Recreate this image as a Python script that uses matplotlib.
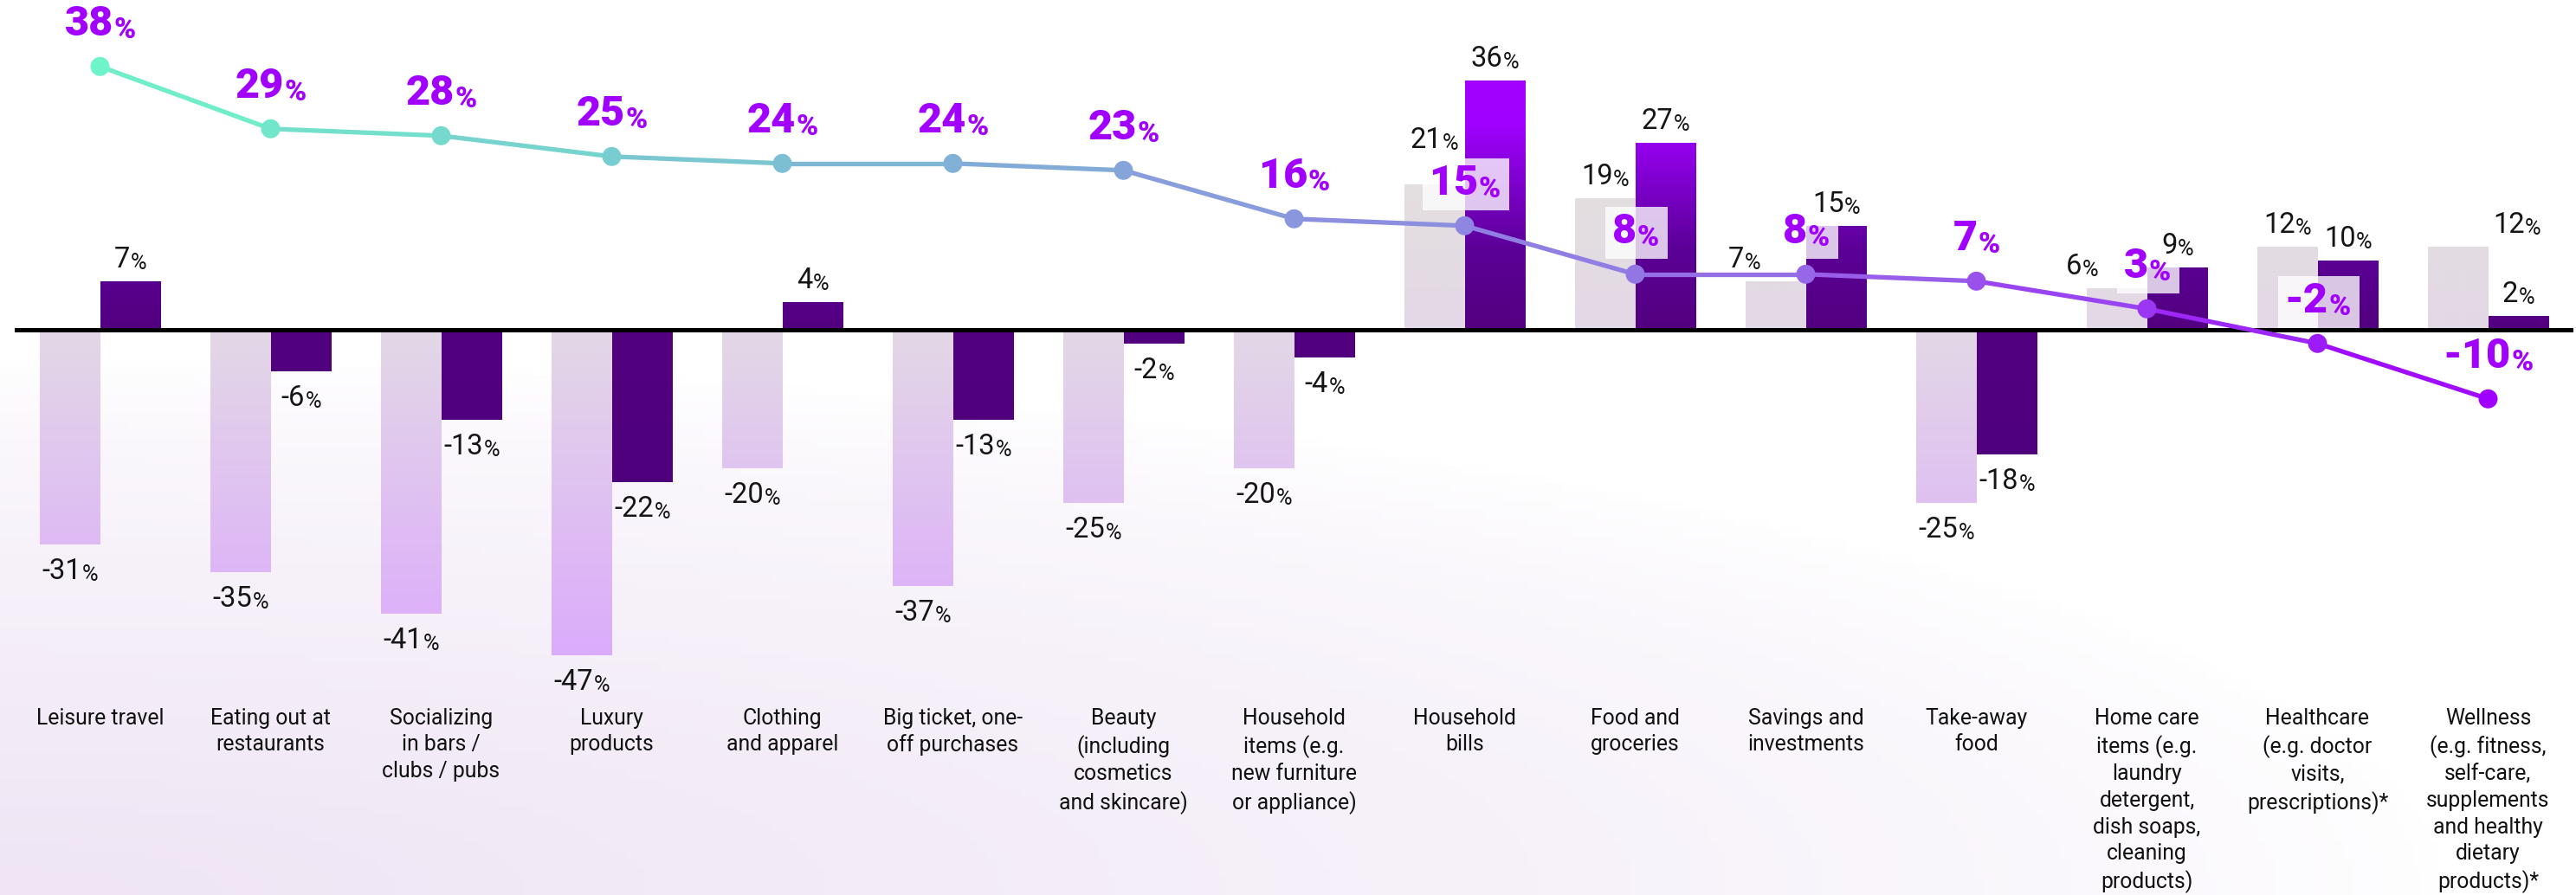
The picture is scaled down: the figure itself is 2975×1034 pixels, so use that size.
import numpy as np
import matplotlib
matplotlib.use('Agg')
import matplotlib.pyplot as plt
from matplotlib.colors import LinearSegmentedColormap, Normalize, to_rgb
from matplotlib.collections import LineCollection
from matplotlib.patches import Rectangle

categories = [
    "Leisure travel",
    "Eating out at\nrestaurants",
    "Socializing\nin bars /\nclubs / pubs",
    "Luxury\nproducts",
    "Clothing\nand apparel",
    "Big ticket, one-\noff purchases",
    "Beauty\n(including\ncosmetics\nand skincare)",
    "Household\nitems (e.g.\nnew furniture\nor appliance)",
    "Household\nbills",
    "Food and\ngroceries",
    "Savings and\ninvestments",
    "Take-away\nfood",
    "Home care\nitems (e.g.\nlaundry\ndetergent,\ndish soaps,\ncleaning\nproducts)",
    "Healthcare\n(e.g. doctor\nvisits,\nprescriptions)*",
    "Wellness\n(e.g. fitness,\nself-care,\nsupplements\nand healthy\ndietary\nproducts)*",
]
light_vals = [-31, -35, -41, -47, -20, -37, -25, -20, 21, 19, 7, -25, 6, 12, 12]
dark_vals = [7, -6, -13, -22, 4, -13, -2, -4, 36, 27, 15, -18, 9, 10, 2]
net_vals = [38, 29, 28, 25, 24, 24, 23, 16, 15, 8, 8, 7, 3, -2, -10]

W, H, DPI = 2975, 1034, 100
plt.rcParams['font.family'] = ['Roboto', 'DejaVu Sans']

fig = plt.figure(figsize=(W / DPI, H / DPI), dpi=DPI)

# soft lavender wash in the lower left
bg = fig.add_axes([0, 0, 1, 1], zorder=-10)
bg.axis('off')
u, v = np.meshgrid(np.linspace(0, 1, 300), np.linspace(0, 1, 100))
w = np.clip(1 - np.sqrt((u / 0.95) ** 2 + (v / 0.6) ** 2), 0, 1) ** 0.7
tint = np.array(to_rgb('#efe5f5'))
img = (1 - w[..., None]) * 1.0 + w[..., None] * tint
bg.imshow(img, origin='lower', extent=[0, 1, 0, 1], aspect='auto')

ax = fig.add_axes([17 / W, 222 / H, 2955 / W, 812 / H])
ax.set_facecolor('none')
x = np.arange(len(categories))
bw = 0.355

light = ax.bar(x - bw / 2, light_vals, bw, color='none', linewidth=0)
dark = ax.bar(x + bw / 2, dark_vals, bw, color='none', linewidth=0)

norm = Normalize(-50, 40)
light_cmap = LinearSegmentedColormap.from_list(
    'light', [(0, '#dba9fd'), (50 / 90, '#e3d8e6'), (62 / 90, '#e3dce2'), (1, '#e5e4dc')])
dark_cmap = LinearSegmentedColormap.from_list(
    'dark', [(0, '#4b0078'), (50 / 90, '#52007f'), (62 / 90, '#5c0098'),
             (72 / 90, '#8000d0'), (80 / 90, '#a000ff'), (1, '#a400ff')])


def fill_gradient(bars, cmap):
    for b in bars:
        x0, y0 = b.get_x(), b.get_y()
        x1, y1 = x0 + b.get_width(), y0 + b.get_height()
        lo, hi = min(y0, y1), max(y0, y1)
        ys = np.linspace(lo, hi, 120).reshape(-1, 1)
        im = ax.imshow(cmap(norm(ys)), extent=[x0, x1, lo, hi], origin='lower',
                       aspect='auto', zorder=2, interpolation='bilinear')
        im.set_clip_path(b)


fill_gradient(light, light_cmap)
fill_gradient(dark, dark_cmap)

ax.axhline(0, color='black', lw=3.6, zorder=4)

# net line with colour gradient
line_cmap = LinearSegmentedColormap.from_list(
    'net', ['#6ff3c8', '#7ac6d1', '#8a96dd', '#985fea', '#a000ff'])
pts = np.column_stack([x, net_vals])
segs = np.stack([pts[:-1], pts[1:]], axis=1)
lc = LineCollection(segs, colors=line_cmap((x[:-1] + 0.5) / x[-1]),
                    linewidths=3.8, zorder=5, capstyle='round')
ax.add_collection(lc)
ax.scatter(x, net_vals, s=250, c=line_cmap(x / x[-1]), zorder=6, edgecolors='none')

labels = []


def pct_label(xv, yv, dx, dy, num, size, color, weight='normal', ratio=0.72):
    t = ax.annotate(str(num), (xv, yv), xytext=(dx * 0.72, dy * 0.72),
                    textcoords='offset points', ha='center', va='center',
                    fontsize=size, color=color, fontweight=weight, zorder=8)
    p = ax.annotate('%', xy=(1, 0), xycoords=t, xytext=(0.5, 0),
                    textcoords='offset points', ha='left', va='bottom',
                    fontsize=size * ratio, color=color, fontweight=weight, zorder=8)
    labels.append((t, p))
    return t, p


light_dx = {10: -36, 12: -40, 14: 68}
light_dy = {8: 51}
for i, val in enumerate(light_vals):
    dy = light_dy.get(i, 25 if val > 0 else -31)
    pct_label(x[i] - bw / 2, val, light_dx.get(i, 0), dy, val, 23.5, '#151515', ratio=0.78)
for i, val in enumerate(dark_vals):
    dy = 25 if val > 0 else -31
    pct_label(x[i] + bw / 2, val, 0, dy, val, 23.5, '#151515', ratio=0.78)

boxed = [8, 9, 10, 12, 13]
net_labels = []
for i, val in enumerate(net_vals):
    net_labels.append(pct_label(x[i], val, 0, 49, val, 35, '#a100ff', 'heavy', ratio=0.7))

ax.set_xlim(-0.5, 14.5)
ax.set_ylim(-53.9, 47.6)
for s in ax.spines.values():
    s.set_visible(False)
ax.set_yticks([])
ax.set_xticks(x, categories)
ax.tick_params(axis='x', length=0, pad=4, labelsize=17.8, labelcolor='#111111')
for lab in ax.get_xticklabels():
    lab.set_linespacing(1.35)

# centre number + percent sign together
fig.canvas.draw()
renderer = fig.canvas.get_renderer()
for t, p in labels:
    pw = p.get_window_extent(renderer).width
    t.xyann = (t.xyann[0] - pw / 2 * 72 / DPI, t.xyann[1])

fig.canvas.draw()
inv = ax.transData.inverted()
for i in boxed:
    t, p = net_labels[i]
    bb1 = t.get_window_extent(renderer)
    bb2 = p.get_window_extent(renderer)
    x0 = min(bb1.x0, bb2.x0) - 8
    x1 = max(bb1.x1, bb2.x1) + 10
    y0 = bb1.y0 - 8
    y1 = bb1.y1 + 6
    (dx0, dy0), (dx1, dy1) = inv.transform([(x0, y0), (x1, y1)])
    ax.add_patch(Rectangle((dx0, dy0), dx1 - dx0, dy1 - dy0, facecolor='white',
                           alpha=0.78, edgecolor='none', zorder=7))

fig.savefig('out.png', dpi=DPI)
